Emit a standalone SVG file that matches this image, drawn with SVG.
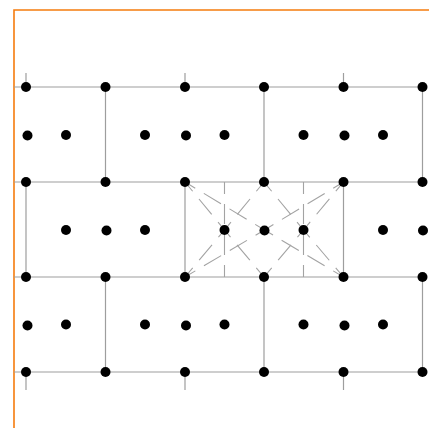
<svg xmlns="http://www.w3.org/2000/svg" width="429" height="428" viewBox="0 0 429 428">
<style>
.frame{stroke:#f57c0e;stroke-width:1.6;fill:none}
.g{stroke:#9e9e9e;stroke-width:1.2;fill:none}
.d{stroke:#a3a3a3;stroke-width:1.1;fill:none;stroke-dasharray:20 10;stroke-dashoffset:8}
.n{fill:#000}
</style>
<rect width="429" height="428" fill="#fff"/>
<g id="frame">
<path class="frame" d="M14,428 V10 H429"/>
</g>
<g id="connectors">
<g class="g">
<path d="M14,87 H422.5 M14,182 H422.5 M14,277 H422.5 M14,372 H422.5"/>
<path d="M105.5,87 V182 M264,87 V182 M422.5,87 V182"/>
<path d="M26,182 V277 M185,182 V277 M343.5,182 V277"/>
<path d="M105.5,277 V372 M264,277 V372 M422.5,277 V372"/>
<path d="M26,73 V87 M185,73 V87 M343.5,73 V87"/>
<path d="M26,372 V390 M185,372 V390 M343.5,372 V390"/>
</g>
<g class="d">
<line x1="185" y1="182" x2="224.5" y2="230"/>
<line x1="185" y1="182" x2="264.5" y2="230"/>
<line x1="264" y1="182" x2="224.5" y2="230"/>
<line x1="264" y1="182" x2="303.5" y2="230"/>
<line x1="343.5" y1="182" x2="264.5" y2="230"/>
<line x1="343.5" y1="182" x2="303.5" y2="230"/>
<line x1="185" y1="277" x2="224.5" y2="230"/>
<line x1="185" y1="277" x2="264.5" y2="230"/>
<line x1="264" y1="277" x2="224.5" y2="230"/>
<line x1="264" y1="277" x2="303.5" y2="230"/>
<line x1="343.5" y1="277" x2="264.5" y2="230"/>
<line x1="343.5" y1="277" x2="303.5" y2="230"/>
<line x1="224.5" y1="182" x2="224.5" y2="230"/>
<line x1="224.5" y1="277" x2="224.5" y2="230"/>
<line x1="303.5" y1="182" x2="303.5" y2="230"/>
<line x1="303.5" y1="277" x2="303.5" y2="230"/>
</g>
</g>
<g id="r1">
<g id="n1_1"><circle class="n" cx="26" cy="87" r="5"/></g>
<g id="n1_2"><circle class="n" cx="105.5" cy="87" r="5"/></g>
<g id="n1_3"><circle class="n" cx="185" cy="87" r="5"/></g>
<g id="n1_4"><circle class="n" cx="264" cy="87" r="5"/></g>
<g id="n1_5"><circle class="n" cx="343.5" cy="87" r="5"/></g>
<g id="n1_6"><circle class="n" cx="422.5" cy="87" r="5"/></g>
</g>
<g id="m1">
<g id="a1_1"><circle class="n" cx="27.5" cy="135.5" r="5"/></g>
<g id="a1_2"><circle class="n" cx="66" cy="135" r="5"/></g>
<g id="a1_3"><circle class="n" cx="145" cy="135" r="5"/></g>
<g id="a1_4"><circle class="n" cx="186" cy="135.5" r="5"/></g>
<g id="a1_5"><circle class="n" cx="224.5" cy="135" r="5"/></g>
<g id="a1_6"><circle class="n" cx="303.5" cy="135" r="5"/></g>
<g id="a1_7"><circle class="n" cx="344.5" cy="135.5" r="5"/></g>
<g id="a1_8"><circle class="n" cx="383" cy="135" r="5"/></g>
</g>
<g id="r2">
<g id="n2_1"><circle class="n" cx="26" cy="182" r="5"/></g>
<g id="n2_2"><circle class="n" cx="105.5" cy="182" r="5"/></g>
<g id="n2_3"><circle class="n" cx="185" cy="182" r="5"/></g>
<g id="n2_4"><circle class="n" cx="264" cy="182" r="5"/></g>
<g id="n2_5"><circle class="n" cx="343.5" cy="182" r="5"/></g>
<g id="n2_6"><circle class="n" cx="422.5" cy="182" r="5"/></g>
</g>
<g id="m2">
<g id="a2_1"><circle class="n" cx="66" cy="230" r="5"/></g>
<g id="a2_2"><circle class="n" cx="106.5" cy="230.5" r="5"/></g>
<g id="a2_3"><circle class="n" cx="145" cy="230" r="5"/></g>
<g id="a2_4"><circle class="n" cx="224.5" cy="230" r="5"/></g>
<g id="a2_5"><circle class="n" cx="264.5" cy="230.5" r="5"/></g>
<g id="a2_6"><circle class="n" cx="303.5" cy="230" r="5"/></g>
<g id="a2_7"><circle class="n" cx="383" cy="230" r="5"/></g>
<g id="a2_8"><circle class="n" cx="423" cy="230.5" r="5"/></g>
</g>
<g id="r3">
<g id="n3_1"><circle class="n" cx="26" cy="277" r="5"/></g>
<g id="n3_2"><circle class="n" cx="105.5" cy="277" r="5"/></g>
<g id="n3_3"><circle class="n" cx="185" cy="277" r="5"/></g>
<g id="n3_4"><circle class="n" cx="264" cy="277" r="5"/></g>
<g id="n3_5"><circle class="n" cx="343.5" cy="277" r="5"/></g>
<g id="n3_6"><circle class="n" cx="422.5" cy="277" r="5"/></g>
</g>
<g id="m3">
<g id="a3_1"><circle class="n" cx="27.5" cy="325.5" r="5"/></g>
<g id="a3_2"><circle class="n" cx="66" cy="324.5" r="5"/></g>
<g id="a3_3"><circle class="n" cx="145" cy="324.5" r="5"/></g>
<g id="a3_4"><circle class="n" cx="186" cy="325.5" r="5"/></g>
<g id="a3_5"><circle class="n" cx="224.5" cy="324.5" r="5"/></g>
<g id="a3_6"><circle class="n" cx="303.5" cy="324.5" r="5"/></g>
<g id="a3_7"><circle class="n" cx="344.5" cy="325.5" r="5"/></g>
<g id="a3_8"><circle class="n" cx="383" cy="324.5" r="5"/></g>
</g>
<g id="r4">
<g id="n4_1"><circle class="n" cx="26" cy="372" r="5"/></g>
<g id="n4_2"><circle class="n" cx="105.5" cy="372" r="5"/></g>
<g id="n4_3"><circle class="n" cx="185" cy="372" r="5"/></g>
<g id="n4_4"><circle class="n" cx="264" cy="372" r="5"/></g>
<g id="n4_5"><circle class="n" cx="343.5" cy="372" r="5"/></g>
<g id="n4_6"><circle class="n" cx="422.5" cy="372" r="5"/></g>
</g>
</svg>
